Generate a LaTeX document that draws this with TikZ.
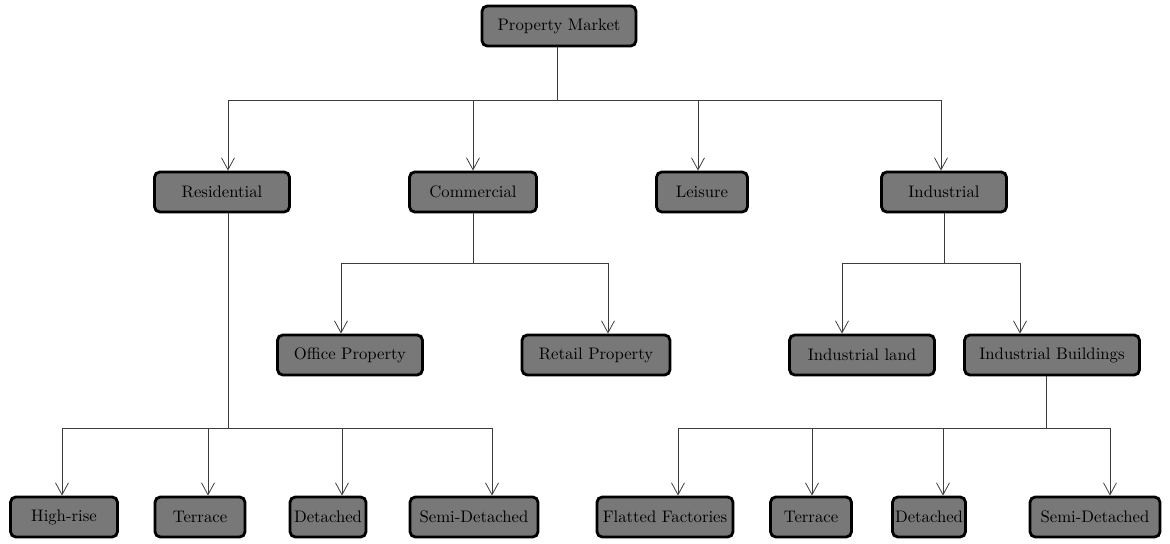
\documentclass[tikz,border=0pt]{standalone}
\usetikzlibrary{arrows.meta,calc}
\definecolor{ink}{RGB}{60,60,60}
\definecolor{speckle}{RGB}{120,120,120}
\tikzset{
  >={Straight Barb[length=2.4mm,width=2.6mm]},
  box/.style={draw=black,fill=speckle,line width=1.6pt,rounded corners=3pt,
    minimum height=8mm,minimum width=#1,inner sep=1pt,font=\fontsize{9.5}{11}\selectfont},
  box/.default=25mm,
  link/.style={draw=ink,line width=0.45pt},
  flow/.style={->,link},
}
\begin{document}
\begin{tikzpicture}[x=0.2mm,y=-0.2mm]
  \useasboundingbox (0,0) rectangle (1170,544);
  % top of the tree
  \node[box=30.8mm] (pm) at (559,26) {Property Market};
  % sectors
  \node[box=27mm] (res) at (222,192) {Residential};
  \node[box=25.4mm] (com) at (473,192) {Commercial};
  \node[box=18.2mm] (lei) at (702,192) {Leisure};
  \node[box=25mm] (ind) at (944,192) {Industrial};
  % second level
  \node[box=29mm] (off) at (350,355) {Office Property};
  \node[box=29.6mm] (ret) at (596,355) {Retail Property};
  \node[box=29mm] (iland) at (862,355) {Industrial land};
  \node[box=35mm] (ibld) at (1052,355) {Industrial Buildings};
  % bottom row
  \node[box=21.4mm] (hr) at (64,517) {High-rise};
  \node[box=18mm] (tera) at (200,517) {Terrace};
  \node[box=15.2mm] (deta) at (328,517) {Detached};
  \node[box=25.6mm] (semia) at (474,517) {Semi-Detached};
  \node[box=27.2mm] (flat) at (665,517) {Flatted Factories};
  \node[box=16.2mm] (terb) at (811,517) {Terrace};
  \node[box=14.6mm] (detb) at (929,517) {Detached};
  \node[box=26mm] (semib) at (1095,517) {Semi-Detached};

  % where the arrows come in
  \foreach \n/\dx in {res/6,com/0,lei/-4,ind/-3,off/-9,ret/12,iland/-20,ibld/-32,
      hr/-2,tera/8,deta/14,semia/18,flat/13,terb/1,detb/14,semib/15}
    \coordinate (t\n) at ($(\n.north)+(\dx,0)$);
  \coordinate (sibld) at ($(ibld.south)+(-6,0)$);

  % buses
  \coordinate (pmbus) at (557,100);
  \coordinate (combus) at (473,263);
  \coordinate (indbus) at (944,263);
  \coordinate (resbus) at (228,428);
  \coordinate (ibldbus) at (1046,428);

  \draw[link] (pmbus |- pm.south) -- (pmbus);
  \draw[link] (tres |- pmbus) -- (tind |- pmbus);
  \foreach \n in {res,com,lei,ind} \draw[flow] (t\n |- pmbus) -- (t\n);

  \draw[link] (com.south) -- (combus);
  \draw[link] (toff |- combus) -- (tret |- combus);
  \foreach \n in {off,ret} \draw[flow] (t\n |- combus) -- (t\n);

  \draw[link] (ind.south) -- (indbus);
  \draw[link] (tiland |- indbus) -- (tibld |- indbus);
  \foreach \n in {iland,ibld} \draw[flow] (t\n |- indbus) -- (t\n);

  \draw[link] (tres |- res.south) -- (resbus);
  \draw[link] (thr |- resbus) -- (tsemia |- resbus);
  \foreach \n in {hr,tera,deta,semia} \draw[flow] (t\n |- resbus) -- (t\n);

  \draw[link] (sibld) -- (ibldbus);
  \draw[link] (tflat |- ibldbus) -- (tsemib |- ibldbus);
  \foreach \n in {flat,terb,detb,semib} \draw[flow] (t\n |- ibldbus) -- (t\n);
\end{tikzpicture}
\end{document}
